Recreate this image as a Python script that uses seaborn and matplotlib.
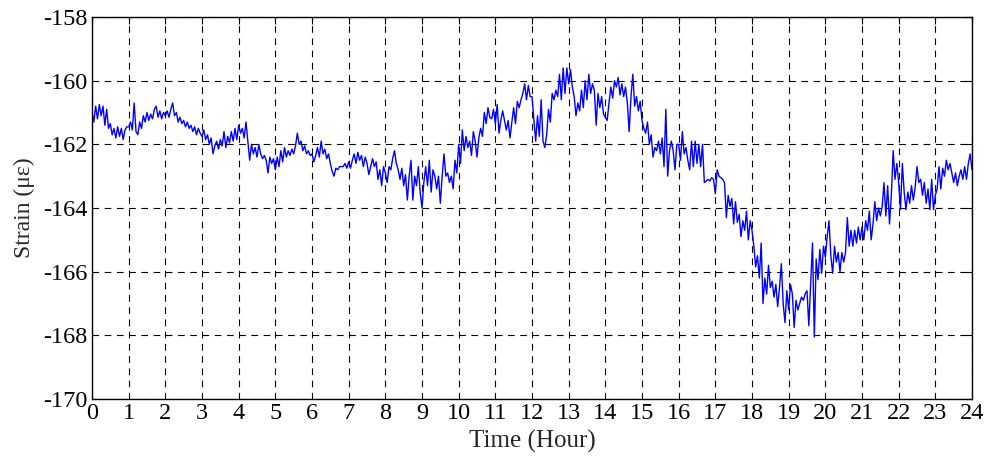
import numpy as np
import pandas as pd
import matplotlib
matplotlib.use("Agg")
import matplotlib.pyplot as plt
import seaborn as sns

# Strain readings (µε), sampled every 0.05 h (3 min), read hour by hour
h00 = [-161.0, -161.3, -160.8, -161.2, -160.75, -161.1, -160.8, -161.4, -160.9, -161.5,
       -161.35, -161.7, -161.5, -161.8, -161.45, -161.75, -161.5, -161.85, -161.55, -161.45]
h01 = [-161.45, -161.3, -161.55, -160.7, -161.6, -161.7, -161.3, -161.5, -161.1, -161.3,
       -161.0, -161.25, -161.05, -161.2, -160.9, -160.8, -161.15, -160.95, -161.2, -161.0]
h02 = [-161.1, -160.95, -161.15, -160.9, -160.7, -161.1, -161.0, -161.3, -161.15, -161.35,
       -161.25, -161.45, -161.3, -161.5, -161.4, -161.6, -161.45, -161.7, -161.5, -161.65]
h03 = [-161.75, -161.55, -161.85, -161.7, -162.0, -161.8, -162.3, -162.05, -161.9, -162.15,
       -161.85, -162.05, -161.6, -162.1, -161.75, -161.95, -161.6, -161.9, -161.5, -161.85]
h04 = [-161.4, -161.65, -161.5, -161.8, -161.3, -161.9, -162.5, -162.0, -162.3, -162.1,
       -162.4, -162.0, -162.3, -162.45, -162.35, -162.5, -162.9, -162.4, -162.6, -162.45]
h05 = [-162.8, -162.4, -162.7, -162.2, -162.55, -162.1, -162.4, -162.2, -162.35, -162.15,
       -162.3, -162.05, -161.65, -162.0, -161.9, -162.2, -162.05, -162.3, -162.2, -162.35]
h06 = [-162.3, -162.55, -162.35, -162.1, -162.4, -161.9, -162.3, -162.15, -162.45, -162.3,
       -162.6, -162.85, -163.0, -162.75, -162.8, -162.7, -162.7, -162.7, -162.6, -162.75]
h07 = [-162.55, -162.75, -162.5, -162.3, -162.6, -162.25, -162.5, -162.35, -162.7, -162.4,
       -162.6, -162.95, -162.7, -162.45, -162.7, -162.55, -163.1, -162.8, -163.3, -162.7]
h08 = [-162.9, -163.2, -162.7, -162.8, -162.45, -162.2, -162.6, -162.8, -163.1, -162.75,
       -163.3, -162.95, -163.75, -163.0, -162.5, -163.75, -163.0, -163.3, -162.7, -163.5]
h09 = [-164.0, -163.2, -162.7, -163.3, -162.5, -163.5, -162.8, -163.0, -163.4, -163.0,
       -163.85, -163.0, -162.3, -163.0, -162.9, -163.2, -163.0, -163.4, -162.5, -162.9]
h10 = [-162.0, -162.6, -161.55, -162.2, -161.75, -162.1, -161.9, -162.35, -161.6, -161.9,
       -162.4, -161.8, -161.5, -161.75, -161.0, -161.35, -160.85, -161.15, -161.2, -160.9]
h11 = [-161.35, -160.75, -161.65, -161.25, -160.95, -161.25, -161.55, -161.25, -161.8, -161.3,
       -160.85, -161.35, -160.65, -160.85, -160.6, -160.4, -160.1, -160.6, -160.15, -160.5]
h12 = [-160.5, -161.2, -161.9, -161.1, -161.75, -160.6, -161.9, -162.1, -161.7, -160.9,
       -161.3, -160.4, -160.6, -160.3, -160.5, -159.8, -160.6, -159.6, -160.4, -159.6]
h13 = [-160.1, -159.65, -160.2, -160.5, -161.1, -160.7, -160.95, -160.3, -160.85, -160.0,
       -160.6, -159.8, -160.4, -160.1, -160.3, -161.4, -160.4, -160.85, -160.5, -161.05]
h14 = [-161.15, -161.25, -160.7, -160.2, -160.55, -160.0, -160.2, -159.9, -160.45, -160.1,
       -160.5, -160.2, -160.7, -161.6, -160.5, -159.8, -160.8, -160.5, -160.95, -160.65]
h15 = [-161.25, -161.5, -161.65, -161.3, -162.0, -161.7, -162.4, -162.1, -162.2, -161.9,
       -162.3, -161.8, -162.7, -160.9, -163.0, -162.2, -161.9, -162.2, -162.8, -162.0]
h16 = [-162.0, -162.5, -161.6, -162.3, -162.1, -162.5, -162.8, -161.9, -162.7, -161.9,
       -162.6, -162.0, -162.7, -162.0, -163.2, -163.15, -163.1, -163.15, -163.05, -163.1]
h17 = [-163.55, -162.8, -163.0, -163.05, -163.1, -163.2, -164.3, -163.6, -163.95, -163.7,
       -164.5, -163.8, -164.45, -164.2, -164.9, -164.4, -164.7, -164.1, -165.0, -164.4]
h18 = [-164.7, -165.2, -165.85, -165.5, -166.2, -165.1, -167.0, -166.2, -166.7, -165.8,
       -166.5, -166.3, -166.8, -166.4, -167.1, -166.5, -165.75, -167.0, -167.6, -166.6]
h19 = [-167.2, -166.4, -166.7, -167.75, -166.9, -167.2, -167.0, -166.8, -166.9, -166.7,
       -166.6, -167.7, -166.4, -165.1, -168.05, -165.6, -166.25, -165.3, -166.05, -165.2]
h20 = [-165.55, -164.9, -164.4, -165.5, -166.05, -165.2, -165.7, -165.4, -166.0, -165.4,
       -165.7, -165.4, -164.3, -165.2, -164.7, -165.2, -164.7, -165.1, -164.6, -165.0]
h21 = [-164.6, -165.0, -164.4, -164.7, -164.1, -165.0, -164.5, -163.8, -164.4, -164.0,
       -164.25, -163.95, -163.2, -164.25, -163.3, -164.5, -163.6, -162.2, -163.1, -162.6]
h22 = [-163.2, -164.05, -162.6, -163.5, -164.05, -163.5, -163.85, -163.3, -163.75, -163.35,
       -162.7, -163.2, -163.1, -163.6, -163.2, -163.85, -163.4, -164.05, -163.1, -164.05]
h23 = [-163.6, -163.4, -162.7, -163.4, -162.75, -163.0, -162.5, -162.8, -162.6, -162.9,
       -163.2, -162.9, -163.3, -163.0, -162.8, -163.1, -162.7, -163.1, -162.6, -162.3]
h24 = [-162.8]

strain = (h00 + h01 + h02 + h03 + h04 + h05 + h06 + h07 + h08 + h09 + h10 + h11 +
          h12 + h13 + h14 + h15 + h16 + h17 + h18 + h19 + h20 + h21 + h22 + h23 + h24)
time_h = np.linspace(0, 24, len(strain))

x_ticks = list(range(0, 25))
y_ticks = [-170, -168, -166, -164, -162, -160, -158]

df = pd.DataFrame({"Time (Hour)": time_h, "Strain": strain})

sns.set_theme(style="white")
plt.rcParams["font.family"] = ["Liberation Serif", "DejaVu Serif"]

fig = plt.figure(figsize=(9.86, 4.63), dpi=100)
ax = fig.add_axes([92 / 986, 64 / 463, 880 / 986, 382 / 463])

sns.lineplot(data=df, x="Time (Hour)", y="Strain", ax=ax, color=(0, 0, 1),
             linewidth=1.0, estimator=None, sort=False)

ax.set_xlim(0, 24)
ax.set_ylim(-170, -158)
ax.set_xticks(x_ticks)
ax.set_yticks(y_ticks)
ax.set_xticklabels([str(t) for t in x_ticks])
ax.set_yticklabels([str(t) for t in y_ticks])

ax.grid(True, color="black", linestyle=(0, (6, 5)), linewidth=0.8)
ax.tick_params(direction="in", length=5, width=0.8, top=True, right=True,
               labelsize=17.5, colors="black", pad=3)
for s in ax.spines.values():
    s.set_color("black")
    s.set_linewidth(1.0)

ax.set_xlabel("Time (Hour)", fontsize=18, labelpad=4)
ax.set_ylabel("Strain (\u03bc\u03b5)", fontsize=17, labelpad=6)

fig.savefig("out.png", dpi=100)
